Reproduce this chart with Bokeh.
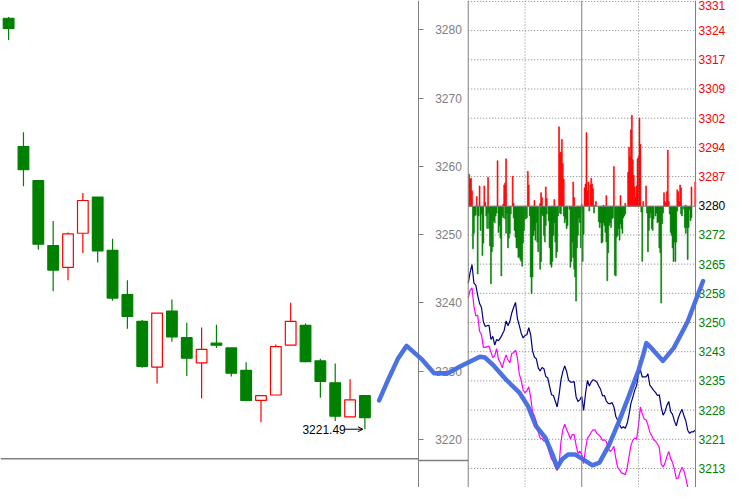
from bokeh.plotting import figure
from bokeh.models import (Range1d, LinearAxis, FixedTicker, CustomJSTickFormatter,
                          Span, Label, Arrow, OpenHead)
from bokeh.embed import file_html
from bokeh.resources import INLINE

# ---------------- daily candles (left panel) ----------------
cand_open = [3281.7, 3262.9, 3257.9, 3248.4, 3245.2, 3250.2, 3255.5, 3247.7, 3241.2, 3237.3,
             3230.6, 3238.8, 3234.9, 3231.2, 3234.1, 3233.4, 3230.1, 3225.7, 3226.5, 3233.8,
             3236.7, 3231.5, 3228.3, 3223.3, 3226.4]
cand_high = [3281.9, 3265.0, 3258.0, 3252.0, 3250.3, 3256.1, 3255.5, 3249.4, 3243.3, 3237.5,
             3238.5, 3240.5, 3237.1, 3236.4, 3236.8, 3233.4, 3231.3, 3226.4, 3233.9, 3240.0,
             3237.0, 3231.8, 3231.1, 3228.8, 3226.4]
cand_low = [3278.5, 3257.1, 3247.8, 3241.7, 3243.3, 3247.3, 3245.9, 3240.3, 3236.2, 3230.5,
            3228.2, 3234.3, 3229.3, 3226.0, 3233.4, 3229.2, 3225.7, 3222.5, 3226.5, 3233.8,
            3231.3, 3226.1, 3222.7, 3223.3, 3221.49]
cand_close = [3280.2, 3259.5, 3248.6, 3244.8, 3250.1, 3255.0, 3247.6, 3240.7, 3238.0, 3230.7,
              3238.5, 3235.0, 3231.9, 3233.2, 3233.8, 3229.7, 3225.7, 3226.4, 3233.6, 3237.3,
              3231.4, 3228.5, 3223.4, 3225.8, 3223.2]
left_ticks = [3220, 3230, 3240, 3250, 3260, 3270, 3280]

# thick blue projection curve (candle index, price)
blue_x = [24.96, 25.62, 26.22, 26.81, 27.80, 28.66, 29.58, 30.44, 31.09, 31.75, 32.08, 32.68,
          33.53, 34.39, 34.98, 35.51, 36.17, 36.63, 36.96, 37.29, 37.69, 38.15, 38.67, 39.33,
          39.80, 40.45, 41.11, 41.77, 42.43, 42.76, 42.96, 43.29, 44.08, 44.81, 45.73, 46.78]
blue_y = [3225.7, 3229.0, 3231.8, 3233.7, 3231.8, 3229.7, 3229.7, 3230.7, 3231.4, 3232.1, 3232.0,
          3230.8, 3228.7, 3226.9, 3224.9, 3222.0, 3220.2, 3217.8, 3215.9, 3217.1, 3217.8, 3217.8,
          3217.1, 3216.2, 3216.6, 3219.2, 3222.6, 3226.3, 3230.1, 3232.5, 3234.1, 3233.4, 3231.5,
          3233.4, 3237.2, 3243.2]

# ---------------- intraday panel (right) ----------------
right_ticks = [3213.4, 3220.8, 3228.2, 3235.6, 3243.0, 3250.4, 3257.8, 3265.2, 3272.6, 3280.0,
               3287.4, 3294.8, 3302.2, 3309.6, 3317.0, 3324.4, 3331.8]
right_labels = ["3213", "3221", "3228", "3235", "3243", "3250", "3258", "3265", "3272", "3280",
                "3287", "3294", "3302", "3309", "3317", "3324", "3331"]
prev_close = 3280.0

line_min = list(range(0, 241, 2))
navy_price = [3260.4, 3263.1, 3265.1, 3260.4, 3259.9, 3257.3, 3255.2, 3254.2, 3250.6, 3249.4,
              3249.6, 3249.7, 3246.1, 3246.9, 3244.7, 3246.1, 3245.8, 3246.5, 3247.4, 3248.4,
              3250.8, 3249.6, 3250.7, 3252.8, 3254.2, 3255.5, 3251.4, 3249.6, 3247.7, 3246.5,
              3247.1, 3247.3, 3249.1, 3247.3, 3243.2, 3241.6, 3241.2, 3238.9, 3238.1, 3239.0,
              3238.7, 3236.7, 3236.4, 3234.2, 3232.1, 3231.9, 3230.5, 3229.0, 3232.0, 3235.8,
              3238.0, 3239.4, 3238.0, 3235.8, 3235.3, 3235.3, 3235.4, 3231.6, 3230.4, 3230.8,
              3231.7,
              3228.1, 3232.4, 3235.7, 3234.3, 3235.3, 3235.9, 3235.7, 3235.3, 3234.3, 3233.4,
              3231.8, 3231.9, 3230.5, 3229.9, 3229.8, 3230.1, 3229.0, 3226.6, 3225.6, 3224.5,
              3223.6, 3224.0, 3223.6, 3224.8, 3227.1, 3229.9, 3231.5, 3233.2, 3234.4, 3237.3,
              3238.3, 3236.6, 3236.6, 3236.6, 3237.4, 3234.5, 3233.9, 3233.2, 3232.7, 3231.9,
              3232.1, 3229.0, 3226.9, 3227.8, 3229.4, 3230.4, 3227.8, 3227.1, 3225.4, 3224.2,
              3226.2, 3227.4, 3228.4, 3226.8, 3225.5, 3223.1, 3222.3, 3222.7, 3222.7, 3223.1]
magenta_price = [3256.6, 3258.6, 3259.2, 3254.5, 3252.1, 3252.2, 3248.2, 3247.3, 3244.1, 3244.1,
                 3244.3, 3244.4, 3242.9, 3241.5, 3242.0, 3243.8, 3241.1, 3240.2, 3238.9, 3240.8,
                 3242.2, 3240.9, 3240.2, 3242.6, 3242.7, 3243.4, 3241.4, 3237.3, 3235.7, 3233.3,
                 3232.6, 3233.1, 3234.1, 3231.4, 3227.7, 3226.7, 3225.2, 3222.7, 3221.1, 3221.0,
                 3220.3, 3220.5, 3219.0, 3217.3, 3215.8, 3215.1, 3213.8, 3212.9, 3214.2, 3220.1,
                 3223.2, 3224.6, 3223.3, 3222.2, 3220.9, 3222.0, 3222.0, 3219.3, 3217.2, 3217.8,
                 3216.9,
                 3214.6, 3218.4, 3221.1, 3221.7, 3222.6, 3223.2, 3223.2, 3222.3, 3221.9, 3221.4,
                 3220.5, 3220.7, 3220.2, 3218.5, 3217.7, 3218.2, 3219.0, 3216.0, 3213.6, 3213.1,
                 3212.3, 3212.1, 3211.8, 3213.6, 3216.4, 3219.2, 3220.6, 3221.1, 3220.9, 3224.3,
                 3229.0, 3227.3, 3225.9, 3225.7, 3224.4, 3222.6, 3221.7, 3220.7, 3220.3, 3219.6,
                 3218.7, 3214.5, 3213.8, 3214.7, 3216.4, 3217.7, 3215.9, 3214.9, 3213.1, 3210.8,
                 3211.0, 3212.6, 3213.7, 3212.8, 3211.0, 3208.7]

red_min = [1, 2, 3, 4, 9, 12, 17, 18, 21, 31, 37, 38, 39, 40, 47, 48, 63, 64, 70, 76, 77, 78,
           82, 83, 91, 96, 97, 98, 99, 100, 101, 111, 112, 120, 123, 124, 125, 126, 127, 129,
           130, 131, 132, 134, 135, 143, 146, 154, 161, 166, 169, 170, 171, 172, 173, 174, 175,
           176, 177, 178, 179, 180, 181, 182, 185, 188, 207, 208, 209, 210, 211, 212, 221, 222,
           223, 224, 225, 230, 236, 240]
red_val = [33, 28, 29, 16, 10, 21, 21, 4, 30, 47, 2, 22, 24, 49, 31, 3, 36, 22, 6, 3, 14, 9,
           20, 8, 7, 82, 55, 56, 69, 44, 28, 25, 9, 2, 19, 23, 76, 16, 25, 22,
           29, 23, 18, 1, 5, 1, 11, 41, 11, 3, 35, 61, 51, 79, 94, 48, 32,
           20, 9, 21, 49, 52, 91, 64, 5, 21, 14, 5, 3, 15, 58, 5, 17, 15,
           5, 22, 19, 1, 20, 25]
green_min = [5, 6, 7, 8, 10, 11, 13, 14, 15, 16, 19, 20, 21, 22, 23, 24, 25, 26, 27, 28, 29, 30,
             32, 33, 34, 35, 36, 37, 39, 40, 41, 42, 43, 44, 45, 48, 49, 50, 51, 52, 53, 54, 55,
             56, 57, 58, 59, 60, 61, 62, 65, 66, 67, 68, 69, 70, 71, 72, 73, 74, 76, 77, 78, 79,
             80, 81, 82, 83, 85, 86, 87, 88, 89, 90, 91, 92, 93, 94, 95, 97, 98, 101, 102, 103,
             104, 105, 107, 108, 109, 110, 111, 112, 113, 114, 115, 116, 117, 118, 119, 120,
             121, 122, 128, 133, 138, 139, 140, 141, 142, 143, 144, 145, 146, 147, 148, 149, 150,
             151, 152, 153, 155, 156, 157, 158, 159, 160, 161, 162, 163, 164, 165, 166, 183, 184,
             189, 190, 191, 192, 193, 194, 195, 196, 198, 199, 200, 201, 202, 203, 204, 205, 206,
             213, 214, 215, 216, 217, 218, 219, 220, 221, 225, 226, 228, 229, 230, 231, 232, 233,
             234, 235, 236]
green_val = [44, 28, 10, 9, 70, 10, 25, 8, 51, 38, 10, 23, 7, 23, 41, 80, 47, 42, 15, 17, 10, 7,
             27, 20, 33, 72, 10, 12, 13, 28, 7, 43, 33, 28, 8, 12, 25, 32, 43, 43, 53, 52, 55,
             57, 62, 38, 25, 13, 13, 12, 10, 73, 90, 73, 30, 25, 35, 17, 37, 47, 65, 57, 8, 10,
             30, 37, 20, 8, 15, 43, 60, 63, 57, 30, 17, 37, 53, 47, 10, 7, 8, 10, 17, 13,
             23, 20, 3, 63, 57, 37, 53, 65, 73, 98, 43, 30, 12, 17, 43, 7,
             57, 29, 5, 7, 16, 22, 17, 38, 37, 17, 20, 27, 37, 77, 48, 20, 17,
             22, 13, 12, 71, 72, 32, 30, 23, 35, 18, 23, 28, 12, 10, 8, 6, 57,
             7, 47, 25, 12, 7, 23, 25, 13, 10, 7, 17, 16, 43, 48, 100, 18, 7,
             8, 27, 30, 43, 57, 37, 57, 37, 5, 8, 10, 3, 22, 28, 22, 55, 22,
             3, 15, 12]

# ---------------- colours / layout ----------------
RED = "#ff0000"
GREEN = "#008000"
GRAY = "#808080"
FONT = "Liberation Sans"
AX_LEFT_X = 426.8      # reference-picture x of the left price axis
AX_RIGHT_X = 710.3     # reference-picture x of the right price axis

p = figure(width=729, height=487,
           x_range=Range1d(-0.547, 48.56), y_range=Range1d(3212.95, 3284.30),
           x_axis_type=None, y_axis_type=None,
           toolbar_location=None, output_backend="svg",
           min_border=0, outline_line_color=None,
           background_fill_color="white", border_fill_color="white")
p.extra_x_ranges = {"min": Range1d(-494.48, 276.21), "scr": Range1d(0, 745)}
p.extra_y_ranges = {"rp": Range1d(3208.58, 3332.03), "flow": Range1d(-290.5, 212.5),
                    "scr": Range1d(503, 0)}

# panel frame lines
p.segment(x0=[0], x1=[AX_LEFT_X], y0=[473.3], y1=[473.3], x_range_name="scr",
          y_range_name="scr", line_color=GRAY, line_width=1.5)
p.segment(x0=[AX_LEFT_X], x1=[477.8], y0=[475.0], y1=[475.0], x_range_name="scr",
          y_range_name="scr", line_color=GRAY, line_width=1.5)

# intraday grid
grid_ticks = [t for t in right_ticks if t != prev_close]
p.segment(x0=[0] * len(grid_ticks), x1=[240] * len(grid_ticks), y0=grid_ticks, y1=grid_ticks,
          x_range_name="min", y_range_name="rp", line_color=GRAY, line_dash="1 2", line_width=1)
for loc, dash in [(0, "solid"), (120, "solid"), (60, "1 2"), (180, "1 2")]:
    p.add_layout(Span(location=loc, dimension="height", x_range_name="min",
                      line_color=GRAY, line_width=1, line_dash=dash))

# buy/sell force bars
p.vbar(x=red_min, width=1.0, bottom=0, top=red_val, x_range_name="min", y_range_name="flow",
       fill_color=RED, line_color=RED, line_width=0.6)
p.vbar(x=green_min, width=1.0, top=0, bottom=[-v for v in green_val], x_range_name="min",
       y_range_name="flow", fill_color=GREEN, line_color=GREEN, line_width=0.6)
p.segment(x0=[0], x1=[240], y0=[0], y1=[0], x_range_name="min", y_range_name="flow",
          line_color=GRAY, line_width=1)

# intraday lines
p.line(line_min[:len(navy_price)], navy_price, x_range_name="min", y_range_name="rp",
       line_color="#000080", line_width=1.2)
p.line(line_min[:len(magenta_price)], magenta_price, x_range_name="min", y_range_name="rp",
       line_color="#ff00ff", line_width=1.2)

# candles
idx = list(range(len(cand_open)))
up = [c >= o for o, c in zip(cand_open, cand_close)]
ccol = [RED if u else GREEN for u in up]
p.segment(x0=idx, x1=idx, y0=cand_low, y1=cand_high, line_color=ccol, line_width=1.2)
p.vbar(x=idx, width=0.72,
       bottom=[min(o, c) for o, c in zip(cand_open, cand_close)],
       top=[max(o, c) for o, c in zip(cand_open, cand_close)],
       fill_color=["white" if u else GREEN for u in up], line_color=ccol, line_width=1.2)

# lowest-low annotation
lo_i = min(idx, key=lambda i: cand_low[i])
lo = cand_low[lo_i]
p.add_layout(Label(x=lo_i - 1.29, y=lo, text=f"{lo:.2f}", text_align="right",
                   text_baseline="middle", text_font=FONT, text_font_size="12px",
                   text_color="black"))
p.add_layout(Arrow(x_start=lo_i - 1.33, y_start=lo, x_end=lo_i - 0.14, y_end=lo,
                   line_color="black", line_width=1,
                   end=OpenHead(size=5, line_color="black", line_width=1)))

# blue projection curve on top
p.line(blue_x, blue_y, line_color="#4169e1", line_width=4.5, line_join="round",
       line_cap="round", level="overlay", line_alpha=0.95)

# left price axis
left_axis = LinearAxis(x_range_name="scr", fixed_location=AX_LEFT_X,
                       ticker=FixedTicker(ticks=left_ticks),
                       axis_line_color=GRAY, axis_line_width=1,
                       major_tick_line_color=GRAY, major_tick_out=5, major_tick_in=0,
                       minor_tick_line_color=None,
                       major_label_text_color=GRAY, major_label_text_font=FONT,
                       major_label_text_font_size="12px", major_label_standoff=12)
p.add_layout(left_axis, "right")

# right price axes (colour by side of previous close)
fmt_code = """
let b = 0;
for (let i = 0; i < vals.length; i++) {
  if (Math.abs(vals[i] - tick) < Math.abs(vals[b] - tick)) b = i;
}
return labels[b];
"""
groups = [([t for t in right_ticks if t > prev_close], RED),
          ([t for t in right_ticks if t == prev_close], "black"),
          ([t for t in right_ticks if t < prev_close], GREEN)]
for gi, (ticks, col) in enumerate(groups):
    ax = LinearAxis(x_range_name="scr", y_range_name="rp", fixed_location=AX_RIGHT_X,
                    ticker=FixedTicker(ticks=ticks),
                    formatter=CustomJSTickFormatter(args=dict(vals=right_ticks, labels=right_labels),
                                                    code=fmt_code),
                    axis_line_color=GRAY if gi == 0 else None, axis_line_width=1,
                    major_tick_out=0, major_tick_in=0, major_tick_line_color=None,
                    minor_tick_line_color=None,
                    major_label_text_color=col, major_label_text_font=FONT,
                    major_label_text_font_size="12px", major_label_standoff=3)
    p.add_layout(ax, "right")

open("out.html", "w").write(file_html(p, INLINE))
